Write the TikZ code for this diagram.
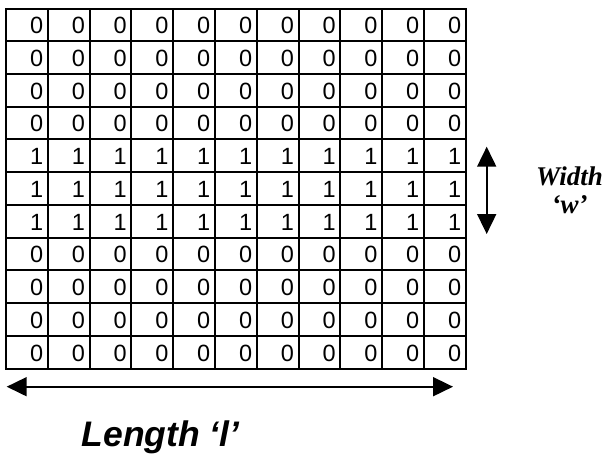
\documentclass[tikz,border=0pt]{standalone}
\usepackage{fontspec}
\setmainfont{Liberation Sans}
\newfontfamily\timesfont{Liberation Serif}
\usetikzlibrary{arrows.meta}
\begin{document}
\begin{tikzpicture}[x=1pt,y=-1pt,
  gridline/.style={line width=2pt},
  cellnum/.style={anchor=east, inner sep=0pt, font=\fontsize{23.5}{23.5}\selectfont},
  dimarrow/.style={line width=1.8pt,
    {Triangle[length=20pt,width=19pt]}-{Triangle[length=20pt,width=19pt]}},
  widthlabel/.style={anchor=base, inner sep=0pt,
    font=\timesfont\bfseries\itshape\fontsize{27}{28}\selectfont},
  lengthlabel/.style={anchor=base, inner sep=0pt,
    font=\bfseries\itshape\fontsize{35.5}{36}\selectfont}
]
\fill[white] (0,0) rectangle (604,455);
\useasboundingbox (0,0) rectangle (604,455);
\def\cw{41.8}
\def\ch{32.73}
% cell grid, 11 x 11
\foreach \i in {1,...,10} {
  \draw[gridline] ({6+\i*\cw},8.5) -- ({6+\i*\cw},368.5);
  \draw[gridline] (6,{8.5+\i*\ch}) -- (465.8,{8.5+\i*\ch});
}
\draw[gridline] (6,8.5) rectangle (465.8,368.5);
% cell values: rows 5 to 7 hold ones
\foreach \r in {1,...,11} {
  \foreach \c in {1,...,11} {
    \pgfmathtruncatemacro\v{and(\r>4,\r<8)}
    \node[cellnum] (n-\r-\c) at ({6+\c*\cw-4.5},{8.5+(\r-0.5)*\ch+0.8}) {\v};
  }
}
% width dimension
\coordinate (wtop) at (486.7,146.7);
\coordinate (wbot) at (486.7,234);
\draw[dimarrow] (wtop) -- (wbot);
\node[widthlabel] (wname) at (569.5,185) {Width};
\node[widthlabel] (wsym) at (569.5,213) {‘w’};
% length dimension
\coordinate (lleft) at (6.7,386.7);
\coordinate (lright) at (453,386.7);
\draw[dimarrow] (lleft) -- (lright);
\node[lengthlabel] (lname) at (160.5,446.5) {Length ‘l’};
\end{tikzpicture}
\end{document}
